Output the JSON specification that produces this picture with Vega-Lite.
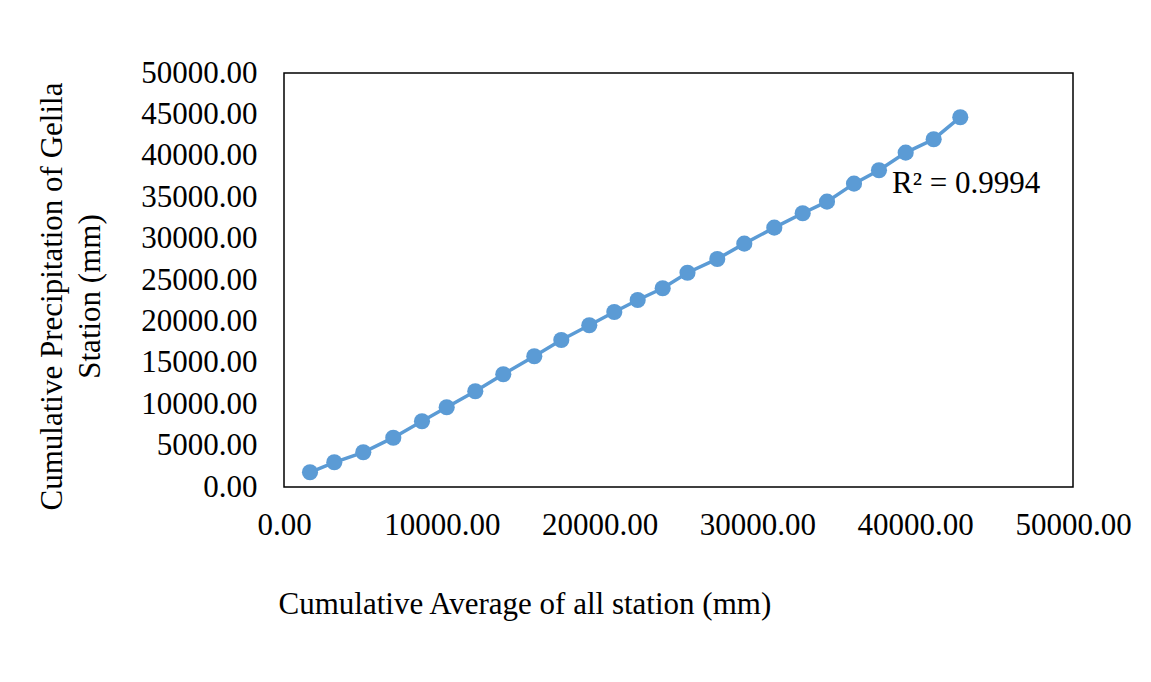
{
  "$schema": "https://vega.github.io/schema/vega-lite/v6.json",
  "autosize": {"type": "none"},
  "width": 789,
  "height": 414,
  "padding": {"left": 284, "top": 73, "right": 78, "bottom": 195},
  "background": "white",
  "config": {
    "font": "Liberation Serif",
    "view": {"stroke": "#000000", "strokeWidth": 1.5},
    "axis": {"grid": false, "domain": false, "ticks": false, "labelColor": "#000000", "titleColor": "#000000", "labelFont": "Liberation Serif", "titleFont": "Liberation Serif", "titleFontWeight": "normal"}
  },
  "datasets": {
    "mass": [
      {"avg": 1648, "gelila": 1776},
      {"avg": 3188, "gelila": 2984},
      {"avg": 5025, "gelila": 4192},
      {"avg": 6926, "gelila": 5955},
      {"avg": 8745, "gelila": 7937},
      {"avg": 10310, "gelila": 9628},
      {"avg": 12123, "gelila": 11561},
      {"avg": 13897, "gelila": 13614},
      {"avg": 15862, "gelila": 15789},
      {"avg": 17573, "gelila": 17758},
      {"avg": 19347, "gelila": 19533},
      {"avg": 20931, "gelila": 21140},
      {"avg": 22414, "gelila": 22590},
      {"avg": 23998, "gelila": 24003},
      {"avg": 25570, "gelila": 25875},
      {"avg": 27458, "gelila": 27542},
      {"avg": 29169, "gelila": 29391},
      {"avg": 31070, "gelila": 31323},
      {"avg": 32870, "gelila": 33063},
      {"avg": 34410, "gelila": 34464},
      {"avg": 36121, "gelila": 36639},
      {"avg": 37705, "gelila": 38257},
      {"avg": 39397, "gelila": 40383},
      {"avg": 41171, "gelila": 42002},
      {"avg": 42857, "gelila": 44660}
    ],
    "note": [{"label": "R² = 0.9994", "nx": 38529, "ny": 35515}]
  },
  "layer": [
    {
      "data": {"name": "mass"},
      "mark": {"type": "line", "color": "#5B9BD5", "strokeWidth": 3.5},
      "encoding": {
        "x": {
          "field": "avg", "type": "quantitative",
          "scale": {"domain": [0, 50000], "nice": false, "zero": true},
          "axis": {
            "values": [0, 10000, 20000, 30000, 40000, 50000],
            "format": ".2f",
            "labelFontSize": 31,
            "labelPadding": 23,
            "labelFlush": false,
            "labelOverlap": false,
            "title": "Cumulative Average of all station (mm)",
            "titleFontSize": 31,
            "titleAnchor": "start",
            "titleAlign": "left",
            "titleBaseline": "alphabetic",
            "titleX": -6,
            "titleY": 126
          }
        },
        "y": {
          "field": "gelila", "type": "quantitative",
          "scale": {"domain": [0, 50000], "nice": false, "zero": true},
          "axis": {
            "values": [0, 5000, 10000, 15000, 20000, 25000, 30000, 35000, 40000, 45000, 50000],
            "format": ".2f",
            "labelFontSize": 31,
            "labelPadding": 27,
            "labelFlush": false,
            "labelOverlap": false,
            "title": ["Cumulative Precipitation of Gelila", "Station (mm)"],
            "titleFontSize": 31,
            "titleLineHeight": 38,
            "titleAngle": -90,
            "titleAlign": "center",
            "titleBaseline": "bottom",
            "titleX": -216,
            "titleY": 223
          }
        }
      }
    },
    {
      "data": {"name": "mass"},
      "mark": {"type": "point", "filled": true, "opacity": 1, "color": "#5B9BD5", "size": 260},
      "encoding": {
        "x": {"field": "avg", "type": "quantitative"},
        "y": {"field": "gelila", "type": "quantitative"}
      }
    },
    {
      "data": {"name": "note"},
      "mark": {"type": "text", "font": "Liberation Serif", "fontSize": 31, "align": "left", "baseline": "alphabetic", "color": "#000000"},
      "encoding": {
        "text": {"field": "label", "type": "nominal"},
        "x": {"field": "nx", "type": "quantitative"},
        "y": {"field": "ny", "type": "quantitative"}
      }
    }
  ]
}
